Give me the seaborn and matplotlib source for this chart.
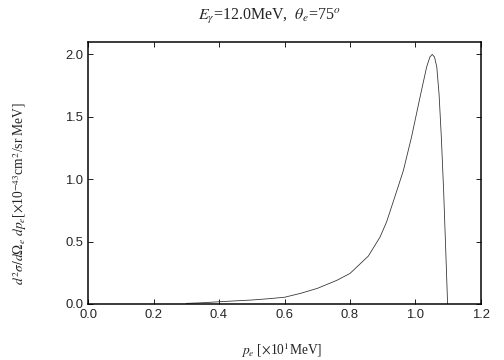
import matplotlib
matplotlib.use("Agg")
import matplotlib.pyplot as plt
import seaborn as sns
import pandas as pd

# data
p_e = [0.30, 0.35, 0.40, 0.45, 0.50, 0.55, 0.60, 0.65, 0.70, 0.76, 0.80, 0.856, 0.892,
       0.912, 0.937, 0.963, 0.988, 1.014, 1.034, 1.044, 1.051, 1.058, 1.065, 1.072,
       1.079, 1.086, 1.093, 1.098]
xsec = [0.005, 0.010, 0.018, 0.025, 0.032, 0.042, 0.054, 0.086, 0.125, 0.19, 0.245, 0.384,
        0.538, 0.66, 0.86, 1.07, 1.34, 1.66, 1.90, 1.98, 2.00, 1.98, 1.90, 1.68,
        1.33, 0.90, 0.38, 0.0]

xticks = [0.0, 0.2, 0.4, 0.6, 0.8, 1.0, 1.2]
yticks = [0.0, 0.5, 1.0, 1.5, 2.0]

sns.set_style("ticks")
plt.rcParams['font.family'] = ['Liberation Sans', 'DejaVu Sans']
plt.rcParams['mathtext.fontset'] = 'stix'

fig = plt.figure(figsize=(7, 5), dpi=72)
ax = fig.add_axes([88/504, 1-304/360, (481-88)/504, (304-42)/360])

df = pd.DataFrame({"p": p_e, "s": xsec})
sns.lineplot(data=df, x="p", y="s", ax=ax, color="#333333", linewidth=0.8)

ax.set_xlim(0, 1.2)
ax.set_ylim(0, 2.1)
ax.set_xticks(xticks)
ax.set_yticks(yticks)
ax.set_xticklabels([f"{t:.1f}" for t in xticks], fontsize=13)
ax.set_yticklabels([f"{t:.1f}" for t in yticks], fontsize=13)
ax.tick_params(direction="in", length=5, width=1, top=True, right=True, pad=5)
for s in ax.spines.values():
    s.set_linewidth(1.5)
    s.set_color("black")
ax.set_xlabel("")
ax.set_ylabel("")

fig.text(269/504, 1-17/360, r"$E_\gamma$=12.0MeV,  $\theta_e$=75$^o$",
         ha="center", va="center", fontsize=16, family="Liberation Serif")
fig.text(282/504, 1-350/360, r"$p_e$ [$\times$10$^1$MeV]",
         ha="center", va="center", fontsize=13.5, family="Liberation Serif")
fig.text(20/504, 1-193/360,
         r"$d^2\sigma/d\Omega_e\ dp_e$[$\times$10$^{-43}$cm$^2$/sr MeV]",
         ha="center", va="center", rotation=90, fontsize=13.5, family="Liberation Serif")

fig.savefig("out.png", dpi=72)
